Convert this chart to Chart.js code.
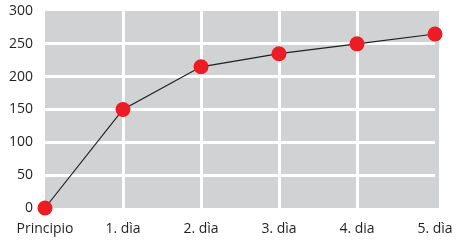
<!DOCTYPE html>
<html><head><meta charset="utf-8">
<script src="https://cdn.jsdelivr.net/npm/chart.js@4"></script>
<style>html,body{margin:0;padding:0;background:#fff}#w{width:457px;height:241px}</style>
</head><body><div id="w"><canvas id="c"></canvas></div>
<script>
const categories = ["Principio", "1. dìa", "2. dìa", "3. dìa", "4. dia", "5. dìa"];
const values = [0, 150, 215, 235, 250, 265];
const yTicks = [0, 50, 100, 150, 200, 250, 300];

const bgPlugin = {
  id: 'bg',
  beforeDraw(chart) {
    const a = chart.chartArea, ctx = chart.ctx;
    ctx.save();
    ctx.fillStyle = '#d1d2d4';
    ctx.fillRect(a.left, a.top, a.right - a.left + 4, a.bottom - a.top);
    ctx.restore();
  }
};

new Chart(document.getElementById('c'), {
  type: 'line',
  data: {
    labels: categories,
    datasets: [{
      data: values,
      borderColor: '#231f20',
      borderWidth: 1.2,
      pointBackgroundColor: '#ed1c24',
      pointBorderColor: '#ed1c24',
      pointRadius: 7.5,
      pointBorderWidth: 0,
      tension: 0,
      clip: false
    }]
  },
  options: {
    responsive: true,
    maintainAspectRatio: false,
    animation: false,
    devicePixelRatio: 1,
    layout: { padding: { top: 11, right: 22, left: 0, bottom: 0 } },
    plugins: { legend: { display: false }, tooltip: { enabled: false } },
    scales: {
      x: {
        type: 'category',
        offset: false,
        border: { display: false },
        grid: {
          color: (c) => (c.index === 0 || c.index === categories.length - 1) ? 'rgba(0,0,0,0)' : '#ffffff',
          lineWidth: 3,
          drawTicks: false
        },
        ticks: { color: '#231f20', font: { family: 'Open Sans', size: 14 }, padding: 13, maxRotation: 0, autoSkip: false },
        afterFit(s) { s.height = 33; s.paddingLeft = 0; s.paddingRight = 0; }
      },
      y: {
        min: 0, max: 300,
        afterBuildTicks(s) { s.ticks = yTicks.map(v => ({ value: v })); },
        border: { display: false },
        grid: {
          color: (c) => (c.tick && (c.tick.value === 0 || c.tick.value === 300)) ? 'rgba(0,0,0,0)' : '#ffffff',
          lineWidth: 3,
          drawTicks: false
        },
        ticks: { color: '#231f20', font: { family: 'Open Sans', size: 14 }, padding: 12 },
        afterFit(s) { s.width = 45; s.paddingTop = 0; s.paddingBottom = 0; }
      }
    }
  },
  plugins: [bgPlugin]
});
</script>
</body></html>
